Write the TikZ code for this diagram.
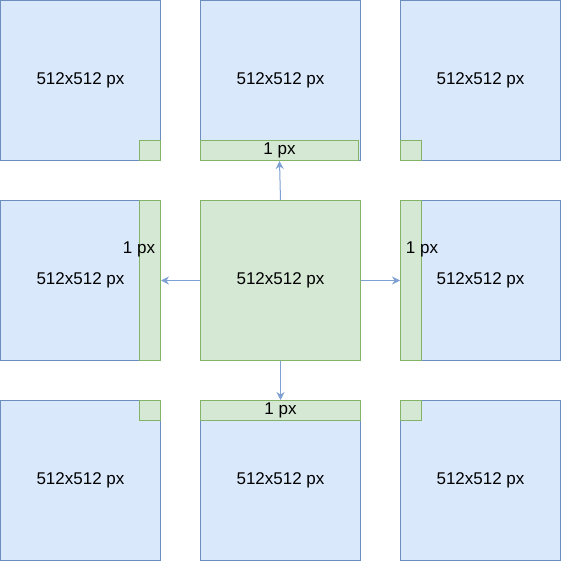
\documentclass[tikz,border=0pt]{standalone}
\usepackage{fontspec}
\setmainfont{Liberation Sans}
\usetikzlibrary{arrows.meta,positioning}
\definecolor{tileline}{HTML}{6C8EBF}
\definecolor{tilefill}{HTML}{DAE8FC}
\definecolor{edgeline}{HTML}{82B366}
\definecolor{edgefill}{HTML}{D5E8D4}
\definecolor{arrline}{HTML}{7EA0D2}

\begin{document}
\begin{tikzpicture}[x=1pt, y=-1pt, node distance=200pt and 200pt, on grid,
                    font=\fontsize{17}{20}\selectfont,
                    tile/.style={draw=tileline, fill=tilefill, line width=1pt,
                                 minimum width=160pt, minimum height=160pt, inner sep=0pt},
                    seam/.style={draw=edgeline, fill=edgefill, line width=1pt, inner sep=0pt},
                    arr/.style={-{Stealth[length=8pt,width=8pt]}, draw=arrline, line width=1pt}]
\useasboundingbox (0,0) rectangle (561,561);
% center tile
\node[tile, fill=edgefill, draw=edgeline] (c) at (280.5,280.5) {512x512 px};
% neighbour tiles
\node[tile] (tl) [above left=of c]  {512x512 px};
\node[tile] (t)  [above=of c]       {512x512 px};
\node[tile] (tr) [above right=of c] {512x512 px};
\node[tile] (l)  [left=of c]        {512x512 px};
\node[tile] (r)  [right=of c]       {512x512 px};
\node[tile] (bl) [below left=of c]  {512x512 px};
\node[tile] (b)  [below=of c]       {512x512 px};
\node[tile] (br) [below right=of c] {512x512 px};

% 1 px borders copied into the neighbours
\node[seam, minimum width=21pt, minimum height=20pt, anchor=south east] (tls) at (tl.south east) {};
\node[seam, minimum width=158pt, minimum height=20pt, anchor=south west] (ts) at (t.south west) {1 px};
\node[seam, minimum width=21pt, minimum height=20pt, anchor=south west] (trs) at (tr.south west) {};
\node[seam, minimum width=21pt, minimum height=160pt, anchor=east] (ls) at (l.east) {};
\node[seam, minimum width=21pt, minimum height=160pt, anchor=west] (rs) at (r.west) {};
\node[seam, minimum width=21pt, minimum height=20pt, anchor=north east] (bls) at (bl.north east) {};
\node[seam, minimum width=160pt, minimum height=20pt, anchor=north west] (bs) at (b.north west) {1 px};
\node[seam, minimum width=21pt, minimum height=20pt, anchor=north west] (brs) at (br.north west) {};

\node (lpx) at ([xshift=-11pt, yshift=31pt]ls.center) {1 px};
\node (rpx) at ([xshift=11pt, yshift=31pt]rs.center) {1 px};

\path (c.north) edge[arr] (ts.south)
      (c.west)  edge[arr] (ls.east)
      (c.east)  edge[arr] (rs.west)
      (c.south) edge[arr] (bs.north);

\end{tikzpicture}
\end{document}
